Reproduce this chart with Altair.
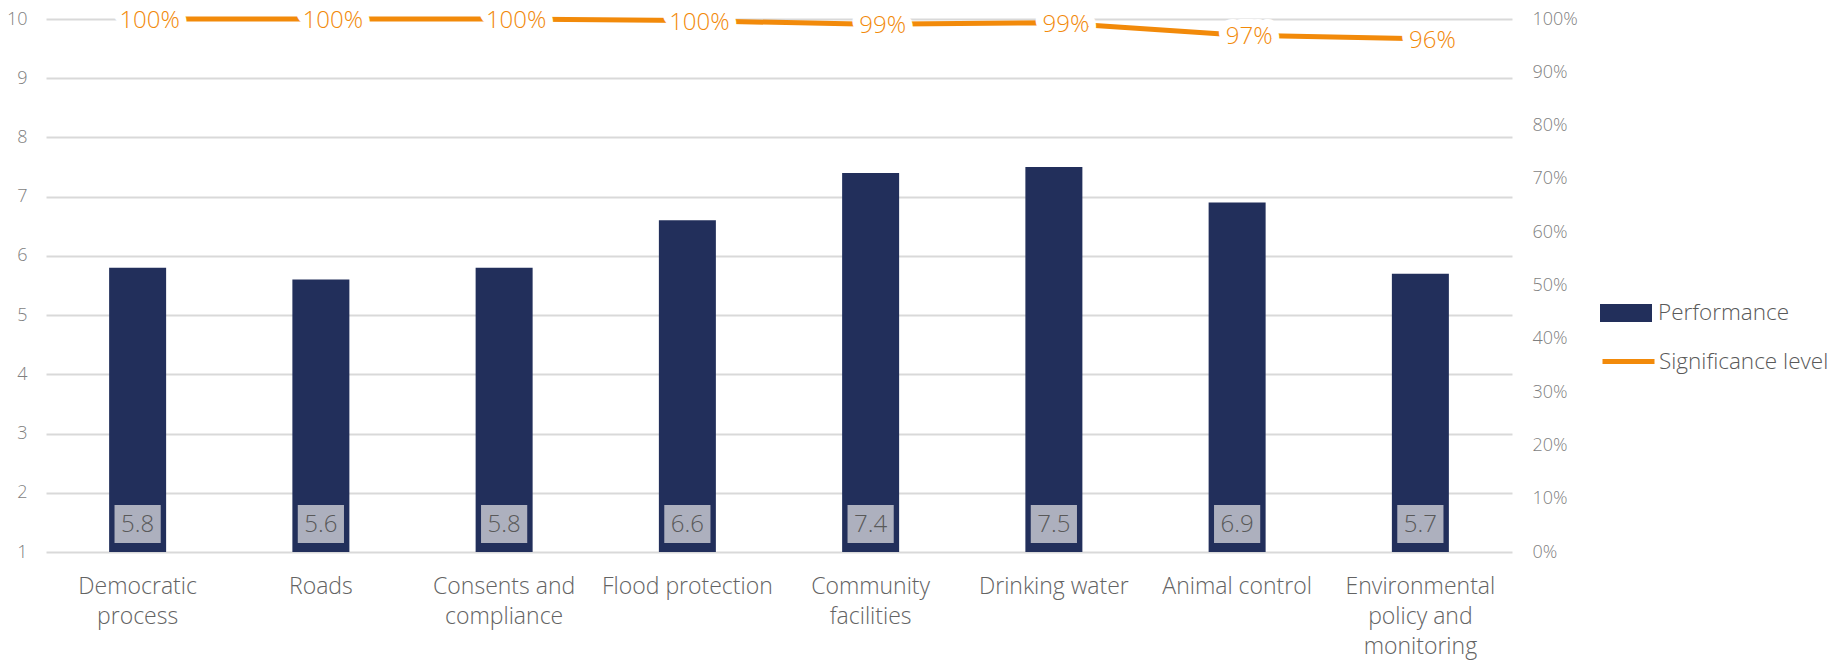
import json
import altair as alt
import pandas as pd

# ---- data ----
categories = ["Democratic process", "Roads", "Consents and compliance", "Flood protection",
              "Community facilities", "Drinking water", "Animal control",
              "Environmental policy and monitoring"]
label_lines = [["Democratic", "process"], ["Roads"], ["Consents and", "compliance"],
               ["Flood protection"], ["Community", "facilities"], ["Drinking water"],
               ["Animal control"], ["Environmental", "policy and", "monitoring"]]
performance = [5.8, 5.6, 5.8, 6.6, 7.4, 7.5, 6.9, 5.7]
significance = [1.0, 1.0, 1.0, 0.997, 0.990, 0.993, 0.970, 0.963]
left_ticks = [1, 2, 3, 4, 5, 6, 7, 8, 9, 10]
right_ticks = [0, 0.1, 0.2, 0.3, 0.4, 0.5, 0.6, 0.7, 0.8, 0.9, 1.0]
series_names = ["Performance", "Significance level"]

df = pd.DataFrame({"category": categories, "performance": performance,
                   "significance": significance})
df["perf_label"] = [f"{v:.1f}" for v in performance]
df["s_bar"] = series_names[0]
df["s_line"] = series_names[1]

# ---- styles ----
NAVY = "#222F5B"
ORANGE = "#F28A0A"
BOX = "#ADB0BE"
GRID = "#D9D9D9"
AXIS_TXT = "#7F7F7F"
TXT = "#595959"
FONT = "Open Sans"
W = 300

label_map = json.dumps(dict(zip(categories, label_lines)))

x = alt.X("category:N", sort=categories,
          scale=alt.Scale(paddingInner=0, paddingOuter=0),
          axis=alt.Axis(title=None, labelAngle=0, labelExpr=f"{label_map}[datum.label]",
                        labelFontSize=23, labelColor="#636363", labelLineHeight=30,
                        labelPadding=23, labelBaseline="top", domain=False, ticks=False,
                        grid=False, labelFont=FONT, labelFontWeight=W, labelLimit=400))

left_scale = alt.Scale(domain=[1, 10], nice=False, zero=False)
left_axis = alt.Axis(orient="left", values=left_ticks, grid=True, gridColor=GRID,
                     gridWidth=2, domain=False, ticks=False, labelPadding=19,
                     labelFontSize=18, labelColor=AXIS_TXT, title=None,
                     labelFont=FONT, labelFontWeight=W)
right_scale = alt.Scale(domain=[0, 1], nice=False, zero=False)
right_axis = alt.Axis(orient="right", values=right_ticks, format=".0%", grid=False,
                      domain=False, ticks=False, labelPadding=20, labelFontSize=18,
                      labelColor=AXIS_TXT, title=None, labelFont=FONT,
                      labelFontWeight=W)

legend_common = dict(title=None, orient="none", padding=0, labelFontSize=22.5,
                     labelColor=TXT, labelFont=FONT, labelFontWeight=W, labelLimit=400,
                     symbolSize=2704, symbolOpacity=1)
bar_legend = alt.Legend(legendX=1554, legendY=268, symbolType="M-1,-0.35H1V0.35H-1Z",
                        symbolStrokeWidth=0, labelOffset=6, **legend_common)
line_legend = alt.Legend(legendX=1554, legendY=314, symbolType="stroke",
                         symbolStrokeWidth=5, labelOffset=2, **legend_common)

base = alt.Chart(df)

bars = base.mark_bar(width=57).encode(
    x=x,
    y=alt.Y("performance:Q", scale=left_scale, axis=left_axis),
    y2=alt.datum(1),
    color=alt.Color("s_bar:N",
                    scale=alt.Scale(domain=[series_names[0]], range=[NAVY]),
                    legend=bar_legend),
)
boxes = base.mark_point(shape="M-1.1,-0.9H1.1V0.9H-1.1Z", size=1764, filled=True,
                        fill=BOX, opacity=1, strokeWidth=0, yOffset=-28).encode(
    x=x, y=alt.Y(datum=1, scale=left_scale, axis=left_axis))
box_text = base.mark_text(fontSize=24, color=TXT, baseline="middle", yOffset=-27,
                          font=FONT, fontWeight=W).encode(
    x=x, y=alt.Y(datum=1, scale=left_scale, axis=left_axis), text="perf_label:N")

y_right = alt.Y("significance:Q", scale=right_scale, axis=right_axis)
line = base.mark_line(strokeWidth=5, strokeCap="round", strokeJoin="round").encode(
    x=x, y=y_right,
    stroke=alt.Stroke("s_line:N",
                      scale=alt.Scale(domain=[series_names[1]], range=[ORANGE]),
                      legend=line_legend))
halo = base.mark_text(dx=12, dy=2, fontSize=24, fill="white", stroke="white",
                      strokeWidth=16, strokeJoin="round", baseline="middle",
                      font=FONT, fontWeight=W).encode(
    x=x, y=y_right, text=alt.Text("significance:Q", format=".0%"))
pct = base.mark_text(dx=12, dy=2, fontSize=24, color=ORANGE, baseline="middle",
                     font=FONT, fontWeight=W).encode(
    x=x, y=y_right, text=alt.Text("significance:Q", format=".0%"))

left = alt.layer(bars, boxes, box_text)
right = alt.layer(line, halo, pct)

chart = alt.layer(left, right).resolve_scale(y="independent").properties(
    width=1466, height=533,
    autosize=alt.AutoSizeParams(type="none"),
    padding={"left": 46, "top": 19, "right": 336, "bottom": 113},
).configure(font=FONT).configure_view(stroke=None).configure_axis(domain=False, ticks=False)

chart.save("out.html", embed_options={"renderer": "svg", "actions": False})
